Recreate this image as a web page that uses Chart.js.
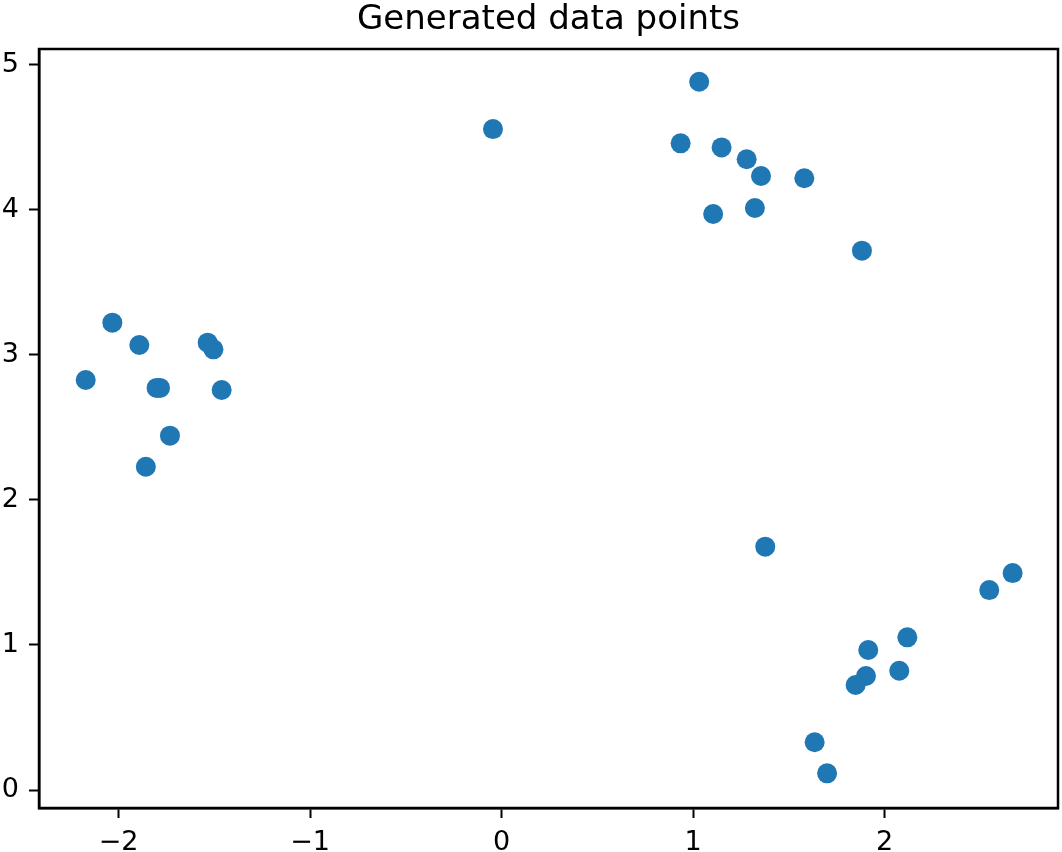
<!DOCTYPE html>
<html>
<head>
<meta charset="utf-8">
<script src="https://cdn.jsdelivr.net/npm/chart.js@4"></script>
<style>
  body { margin: 0; background: #fff; }
</style>
</head>
<body>
<canvas id="scatter" width="1062" height="852"></canvas>
<script>
// points
const xValues = [
  -2.033, -1.892, -2.172, -1.802, -1.784, -1.535, -1.505, -1.462, -1.732, -1.858,
  -0.045,
  1.032, 0.935, 1.149, 1.280, 1.355, 1.581, 1.105, 1.323, 1.882,
  1.377, 2.669, 2.547, 2.119, 1.915, 2.077, 1.903, 1.849, 1.635, 1.700
];
const yValues = [
  3.221, 3.067, 2.826, 2.771, 2.771, 3.083, 3.037, 2.757, 2.442, 2.228,
  4.555,
  4.881, 4.457, 4.429, 4.347, 4.232, 4.216, 3.970, 4.011, 3.717,
  1.677, 1.495, 1.378, 1.052, 0.965, 0.822, 0.786, 0.724, 0.329, 0.115
];
const xTicks = [-2, -1, 0, 1, 2];
const yTicks = [0, 1, 2, 3, 4, 5];
const xRange = [-2.416, 2.906];
const yRange = [-0.124, 5.107];
const titleText = 'Generated data points';

const points = xValues.map((x, i) => ({ x: x, y: yValues[i] }));

const fontFamily = "'DejaVu Sans', sans-serif";
const minus = v => String(v).replace('-', '\u2212');

// axes frame + title centred over the plot area (like matplotlib)
const frame = {
  id: 'frame',
  afterDraw(chart) {
    const a = chart.chartArea;
    const ctx = chart.ctx;
    ctx.save();
    ctx.strokeStyle = '#000';
    ctx.lineWidth = 2.5;
    ctx.strokeRect(a.left, a.top, a.right - a.left, a.bottom - a.top);
    ctx.fillStyle = '#000';
    ctx.font = '34px ' + fontFamily;
    ctx.textAlign = 'center';
    ctx.textBaseline = 'alphabetic';
    ctx.fillText(titleText, (a.left + a.right) / 2, a.top - 20.5);
    ctx.restore();
  }
};

new Chart(document.getElementById('scatter'), {
  type: 'scatter',
  data: {
    datasets: [{
      data: points,
      backgroundColor: '#1f77b4',
      borderWidth: 0,
      pointRadius: 10,
      pointHoverRadius: 10
    }]
  },
  options: {
    responsive: false,
    animation: false,
    layout: { autoPadding: false, padding: { left: 0, right: 4, top: 49, bottom: 0 } },
    plugins: {
      legend: { display: false },
      tooltip: { enabled: false },
      title: { display: false }
    },
    scales: {
      x: {
        type: 'linear',
        min: xRange[0],
        max: xRange[1],
        afterBuildTicks: s => { s.ticks = xTicks.map(v => ({ value: v })); },
        afterFit: s => { s.height = 44; s.paddingLeft = 0; s.paddingRight = 0; },
        grid: { drawOnChartArea: false, tickLength: 10, tickWidth: 2, tickColor: '#000' },
        border: { display: true, color: '#000', width: 2.5 },
        ticks: {
          color: '#000',
          padding: 9,
          maxRotation: 0,
          font: { family: fontFamily, size: 27 },
          callback: v => minus(v)
        }
      },
      y: {
        type: 'linear',
        min: yRange[0],
        max: yRange[1],
        afterBuildTicks: s => { s.ticks = yTicks.map(v => ({ value: v })); },
        afterFit: s => { s.width = 39; s.paddingTop = 0; s.paddingBottom = 0; },
        grid: { drawOnChartArea: false, tickLength: 10, tickWidth: 2, tickColor: '#000' },
        border: { display: true, color: '#000', width: 2.5 },
        ticks: {
          color: '#000',
          padding: 10,
          font: { family: fontFamily, size: 27 },
          callback: v => minus(v)
        }
      }
    }
  },
  plugins: [frame]
});
</script>
</body>
</html>
